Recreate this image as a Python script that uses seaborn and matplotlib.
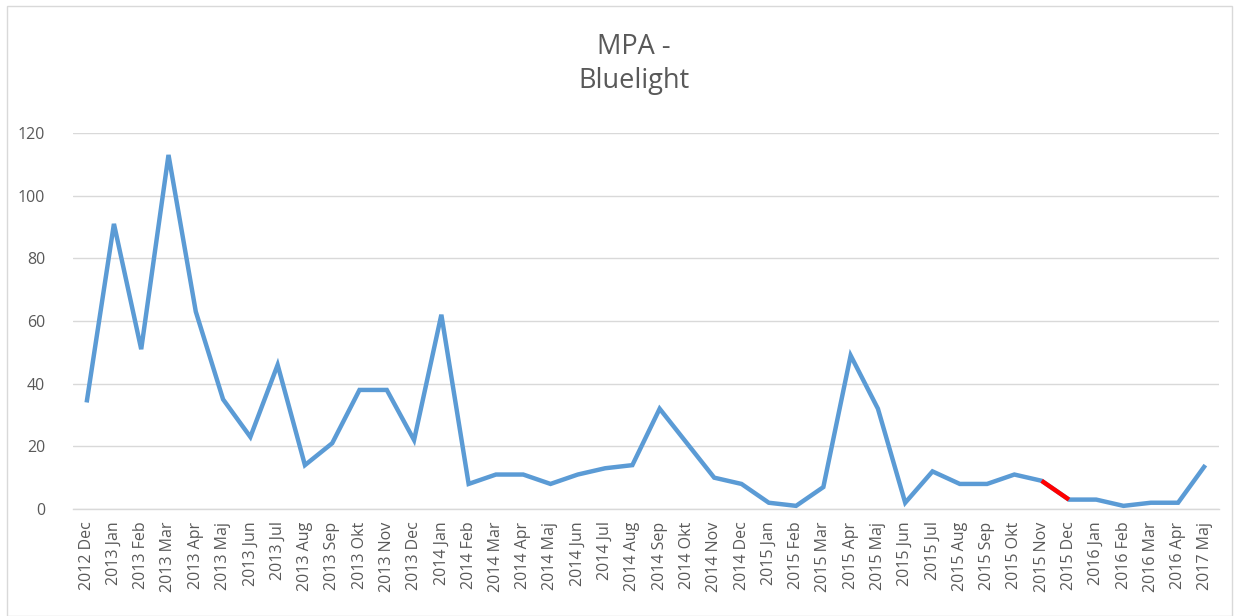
import matplotlib
matplotlib.use("Agg")
import matplotlib.pyplot as plt
import seaborn as sns
import pandas as pd
from matplotlib.patches import Rectangle

months = ["2012 Dec",
          "2013 Jan", "2013 Feb", "2013 Mar", "2013 Apr", "2013 Maj", "2013 Jun",
          "2013 Jul", "2013 Aug", "2013 Sep", "2013 Okt", "2013 Nov", "2013 Dec",
          "2014 Jan", "2014 Feb", "2014 Mar", "2014 Apr", "2014 Maj", "2014 Jun",
          "2014 Jul", "2014 Aug", "2014 Sep", "2014 Okt", "2014 Nov", "2014 Dec",
          "2015 Jan", "2015 Feb", "2015 Mar", "2015 Apr", "2015 Maj", "2015 Jun",
          "2015 Jul", "2015 Aug", "2015 Sep", "2015 Okt", "2015 Nov", "2015 Dec",
          "2016 Jan", "2016 Feb", "2016 Mar", "2016 Apr", "2017 Maj"]
values = [34,
          91, 51, 113, 63, 35, 23,
          46, 14, 21, 38, 38, 22,
          62, 8, 11, 11, 8, 11,
          13, 14, 32, 21, 10, 8,
          2, 1, 7, 49, 32, 2,
          12, 8, 8, 11, 9, 3,
          3, 1, 2, 2, 14]
highlight = ["2015 Nov", "2015 Dec"]
yticks = [0, 20, 40, 60, 80, 100, 120]

sns.set_theme(style="white")
plt.rcParams['font.family'] = ['Open Sans', 'DejaVu Sans']

df = pd.DataFrame({"month": months, "value": values})
df["pos"] = range(len(df))
hl = df[df["month"].isin(highlight)]

fig = plt.figure(figsize=(12.39, 6.16), dpi=100)
ax = fig.add_axes([73/1239, 1-509/616, (1219-73)/1239, (509-133)/616])

sns.lineplot(data=df, x="pos", y="value", ax=ax, color="#5B9BD5", linewidth=3.2,
             solid_joinstyle="miter", solid_capstyle="butt")
sns.lineplot(data=hl, x="pos", y="value", ax=ax, color="#FF0000", linewidth=3.2,
             solid_capstyle="butt")

ax.set_xlim(-0.5, len(df) - 0.5)
ax.set_ylim(0, 120)
ax.set_yticks(yticks)
ax.set_yticklabels([str(t) for t in yticks], fontsize=11.5, color="#595959")
ax.set_xticks(df["pos"])
ax.set_xticklabels(months, rotation=90, fontsize=11.5, color="#595959",
                   ha="center", va="top")
ax.tick_params(axis="x", length=0, pad=9)
ax.tick_params(axis="y", length=0, pad=20)
ax.grid(axis="y", color="#D9D9D9", linewidth=1)
ax.set_axisbelow(True)
for s in ["top", "right", "left"]:
    ax.spines[s].set_visible(False)
ax.spines["bottom"].set_color("#D9D9D9")
ax.spines["bottom"].set_linewidth(1)
ax.set_xlabel("")
ax.set_ylabel("")

fig.text(634/1239, 1-64/616, "MPA -\nBluelight", ha="center", va="center",
         fontsize=19.5, color="#595959", linespacing=1.3)

fig.patches.append(Rectangle((7/1239, 0), 1-14/1239, 1-6/616, transform=fig.transFigure,
                             fill=False, edgecolor="#D9D9D9", linewidth=1))

fig.savefig("out.png", dpi=100)
